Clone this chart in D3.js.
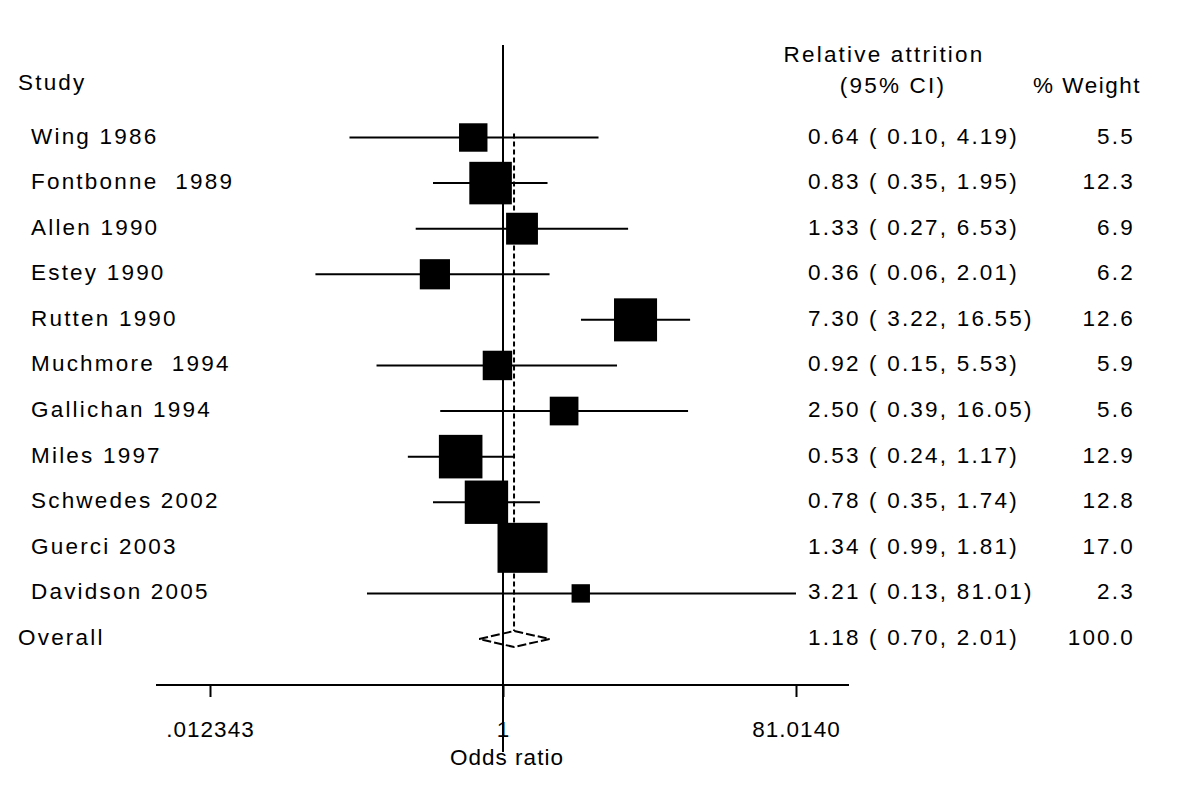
<!DOCTYPE html>
<html><head><meta charset="utf-8">
<script src="https://cdn.jsdelivr.net/npm/d3@7/dist/d3.min.js"></script>
<style>
body{margin:0;background:#fff;}
text{font-family:"Liberation Sans",Arial,sans-serif;font-size:22.5px;fill:#000;letter-spacing:2.2px;}
</style></head>
<body><svg id="c" width="1200" height="799"></svg>
<script>
const studies = ["Wing 1986","Fontbonne  1989","Allen 1990","Estey 1990","Rutten 1990","Muchmore  1994","Gallichan 1994","Miles 1997","Schwedes 2002","Guerci 2003","Davidson 2005"];
const or    = [0.64,0.83,1.33,0.36,7.30,0.92,2.50,0.53,0.78,1.34,3.21];
const lower = [0.10,0.35,0.27,0.06,3.22,0.15,0.39,0.24,0.35,0.99,0.13];
const upper = [4.19,1.95,6.53,2.01,16.55,5.53,16.05,1.17,1.74,1.81,81.01];
const weight= [5.5,12.3,6.9,6.2,12.6,5.9,5.6,12.9,12.8,17.0,2.3];
const overall = {label:"Overall", or:1.18, lower:0.70, upper:2.01, weight:100.0};
const tickValues = [0.012343, 1, 81.0140];
const tickLabels = [".012343","1","81.0140"];

const svg = d3.select("#c");
const x = d3.scaleLog().domain([0.012343, 81.0140]).range([210, 796]);
const y = d3.scaleLinear().domain([0, 11]).range([137.5, 639]);
const size = d3.scaleSqrt().domain([0, 17]).range([0, 50]);
const fmt = d3.format(".2f");

// axis
const axisY = 685;
const ax = svg.append("g").attr("transform",`translate(0,${axisY})`)
  .call(d3.axisBottom(x).tickValues(tickValues).tickFormat((d,i)=>tickLabels[i]).tickSize(12).tickPadding(30));
ax.select(".domain").remove();
ax.selectAll(".tick line").attr("stroke","#000").attr("stroke-width",2);
ax.selectAll(".tick text").attr("font-size",null).attr("font-family",null).attr("dy","0.32em").attr("y",45).style("letter-spacing","1px");
svg.append("line").attr("x1",x(0.012343)-54).attr("x2",x(81.014)+53).attr("y1",axisY).attr("y2",axisY).attr("stroke","#000").attr("stroke-width",2);

// null line
svg.append("line").attr("x1",x(1)).attr("x2",x(1)).attr("y1",45).attr("y2",752).attr("stroke","#000").attr("stroke-width",2);
// overall dotted line
svg.append("line").attr("x1",x(overall.or)).attr("x2",x(overall.or)).attr("y1",y(0)-4).attr("y2",y(11)-8)
  .attr("stroke","#000").attr("stroke-width",2).attr("stroke-dasharray","5,3");

// CI lines
svg.selectAll(".ci").data(studies).enter().append("line")
  .attr("x1",(d,i)=>x(lower[i])).attr("x2",(d,i)=>x(upper[i]))
  .attr("y1",(d,i)=>y(i)).attr("y2",(d,i)=>y(i)).attr("stroke","#000").attr("stroke-width",2);
// boxes
svg.selectAll(".box").data(studies).enter().append("rect")
  .attr("x",(d,i)=>x(or[i])-size(weight[i])/2).attr("y",(d,i)=>y(i)-size(weight[i])/2)
  .attr("width",(d,i)=>size(weight[i])).attr("height",(d,i)=>size(weight[i])).attr("fill","#000");

// diamond
const oy = y(11);
svg.append("path").attr("d",`M${x(overall.lower)},${oy}L${x(overall.or)},${oy-8}L${x(overall.upper)},${oy}L${x(overall.or)},${oy+8}Z`)
  .attr("fill","none").attr("stroke","#000").attr("stroke-width",2).attr("stroke-dasharray","9,3");

// labels
svg.append("text").attr("x",18).attr("y",90).text("Study");
svg.append("text").attr("x",884).attr("y",62).attr("text-anchor","middle").text("Relative attrition");
svg.append("text").attr("x",893).attr("y",93).attr("text-anchor","middle").text("(95% CI)");
svg.append("text").attr("x",1141).attr("y",93).attr("text-anchor","end").style("letter-spacing","1.5px").text("% Weight");

const dy = 6;
studies.forEach((s,i)=>{
  svg.append("text").attr("x",31).attr("y",y(i)+dy).attr("xml:space","preserve").text(s);
  svg.append("text").attr("x",808).attr("y",y(i)+dy).text(`${fmt(or[i])} ( ${fmt(lower[i])}, ${fmt(upper[i])})`);
  svg.append("text").attr("x",1135).attr("y",y(i)+dy).attr("text-anchor","end").text(weight[i].toFixed(1));
});
svg.append("text").attr("x",18).attr("y",oy+dy).text(overall.label);
svg.append("text").attr("x",808).attr("y",oy+dy).text(`${fmt(overall.or)} ( ${fmt(overall.lower)}, ${fmt(overall.upper)})`);
svg.append("text").attr("x",1135).attr("y",oy+dy).attr("text-anchor","end").text(overall.weight.toFixed(1));

svg.append("text").attr("x",507).attr("y",765).attr("text-anchor","middle").style("letter-spacing","1px").text("Odds ratio");
</script></body></html>
